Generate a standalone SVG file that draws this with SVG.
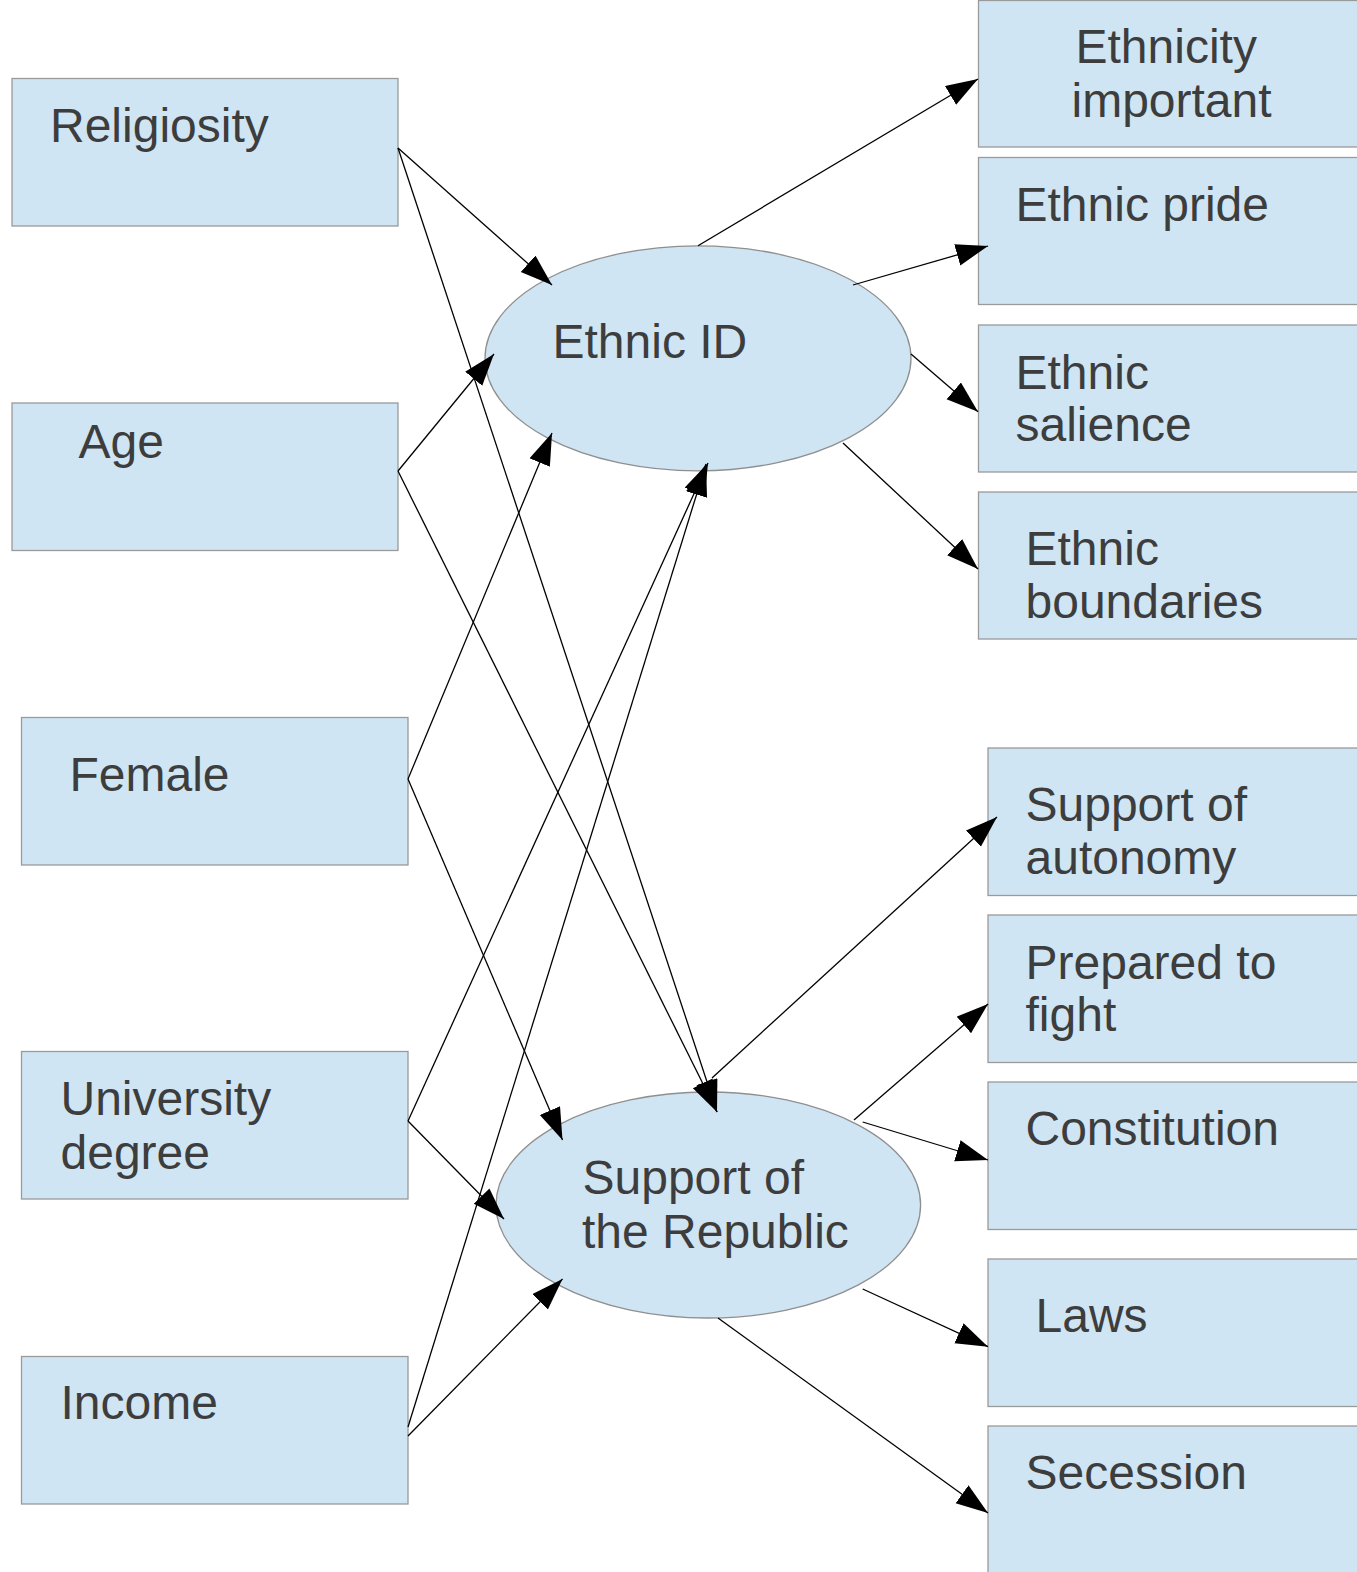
<svg xmlns="http://www.w3.org/2000/svg" width="1357" height="1572" viewBox="0 0 1357 1572">
<style>
.box{fill:#cfe5f3;stroke:#9a9a9a;stroke-width:1.3}
.ell{fill:#cfe5f3;stroke:#8f8f8f;stroke-width:1.3}
text{font-family:"Liberation Sans",Arial,sans-serif;font-size:48px;fill:#3d3d3d}
.c line{stroke:#000;stroke-width:1.3;marker-end:url(#ah)}
</style>
<defs>
<marker id="ah" markerUnits="userSpaceOnUse" markerWidth="34" markerHeight="24" refX="32" refY="11" orient="auto">
<path d="M0,0 L32,11 L0,22 z" fill="#000"/>
</marker>
</defs>
<rect width="1357" height="1572" fill="#fff"/>
<g id="religiosity"><rect class="box" x="12" y="78.5" width="386" height="147.5"/><text x="50" y="142">Religiosity</text></g>
<g id="age"><rect class="box" x="12" y="403" width="386" height="147.5"/><text x="78.5" y="458">Age</text></g>
<g id="female"><rect class="box" x="21.5" y="717.5" width="386.5" height="147.5"/><text x="69.5" y="791">Female</text></g>
<g id="university"><rect class="box" x="21.5" y="1051.5" width="386.5" height="147.5"/><text x="60.5" y="1115">University</text><text x="60.5" y="1169">degree</text></g>
<g id="income"><rect class="box" x="21.5" y="1356.5" width="386.5" height="147.5"/><text x="60.5" y="1419">Income</text></g>
<g id="ethnic-id"><ellipse class="ell" cx="698" cy="358.3" rx="213" ry="112.5"/><text x="552.5" y="358">Ethnic ID</text></g>
<g id="support-republic"><ellipse class="ell" cx="708.3" cy="1205" rx="212.3" ry="113"/><text x="582.5" y="1194">Support of</text><text x="582" y="1248">the Republic</text></g>
<g id="ethnicity-important"><rect class="box" x="978.5" y="0.5" width="390" height="146.5"/><text x="1075.5" y="63">Ethnicity</text><text x="1071.5" y="117">important</text></g>
<g id="ethnic-pride"><rect class="box" x="978.5" y="157.5" width="390" height="147"/><text x="1015.5" y="221">Ethnic pride</text></g>
<g id="ethnic-salience"><rect class="box" x="978.5" y="325" width="390" height="147"/><text x="1015.5" y="389">Ethnic</text><text x="1015.5" y="441">salience</text></g>
<g id="ethnic-boundaries"><rect class="box" x="978.5" y="492" width="390" height="147"/><text x="1025.5" y="565">Ethnic</text><text x="1025.5" y="618">boundaries</text></g>
<g id="support-autonomy"><rect class="box" x="988" y="748" width="380" height="147.5"/><text x="1025.5" y="821">Support of</text><text x="1025.5" y="874">autonomy</text></g>
<g id="prepared-fight"><rect class="box" x="988" y="915" width="380" height="147.5"/><text x="1025.5" y="979">Prepared to</text><text x="1025.5" y="1031">fight</text></g>
<g id="constitution"><rect class="box" x="988" y="1082" width="380" height="147.5"/><text x="1025.5" y="1145">Constitution</text></g>
<g id="laws"><rect class="box" x="988" y="1259" width="380" height="147.5"/><text x="1035.5" y="1332">Laws</text></g>
<g id="secession"><rect class="box" x="988" y="1426" width="380" height="150"/><text x="1025.5" y="1489">Secession</text></g>
<g id="connectors" class="c">
<line x1="398" y1="148" x2="552" y2="285"/>
<line x1="398" y1="148" x2="717" y2="1112"/>
<line x1="398" y1="471" x2="494" y2="354"/>
<line x1="398" y1="471" x2="717" y2="1112"/>
<line x1="408" y1="779" x2="552" y2="433"/>
<line x1="408" y1="779" x2="562.5" y2="1140"/>
<line x1="408" y1="1121" x2="708" y2="463"/>
<line x1="408" y1="1121" x2="504" y2="1219"/>
<line x1="408" y1="1427" x2="706" y2="464"/>
<line x1="408" y1="1436" x2="562.5" y2="1279"/>
<line x1="698" y1="245.7" x2="978" y2="79"/>
<line x1="853" y1="285" x2="988" y2="246"/>
<line x1="911" y1="354" x2="978" y2="411.7"/>
<line x1="843" y1="443" x2="978" y2="569"/>
<line x1="712" y1="1078" x2="997" y2="817"/>
<line x1="854" y1="1120" x2="988" y2="1004"/>
<line x1="862.7" y1="1122" x2="988" y2="1160"/>
<line x1="862.7" y1="1289" x2="988" y2="1346.7"/>
<line x1="718" y1="1318" x2="988" y2="1513"/>
</g>
</svg>
